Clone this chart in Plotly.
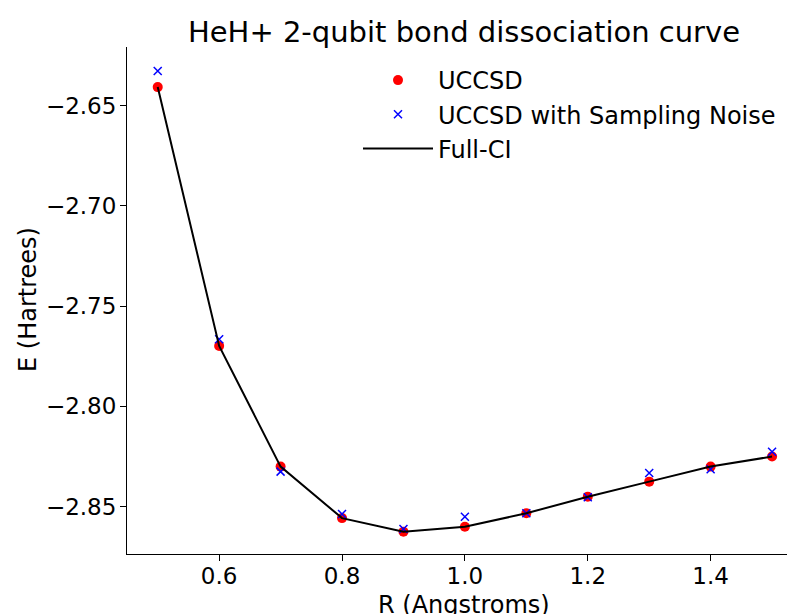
import plotly.graph_objects as go

R = [0.5, 0.6, 0.7, 0.8, 0.9, 1.0, 1.1, 1.2, 1.3, 1.4, 1.5]
E_uccsd = [-2.6408, -2.7699, -2.8301, -2.8558, -2.8626, -2.8601, -2.8534, -2.8451, -2.8376, -2.8301, -2.8251]
E_noise = [-2.6328, -2.7666, -2.8326, -2.8537, -2.8612, -2.8551, -2.8534, -2.8454, -2.8333, -2.8314, -2.8227]
E_fci = [-2.6408, -2.7699, -2.8301, -2.8558, -2.8626, -2.8601, -2.8534, -2.8451, -2.8376, -2.8301, -2.8251]

x_ticks = [0.6, 0.8, 1.0, 1.2, 1.4]
x_ticklabels = ["0.6", "0.8", "1.0", "1.2", "1.4"]
y_ticks = [-2.65, -2.70, -2.75, -2.80, -2.85]
y_ticklabels = ["\u22122.65", "\u22122.70", "\u22122.75", "\u22122.80", "\u22122.85"]

FONT = "DejaVu Sans"
L, T, B = 127, 47, 60
PW, PH = 787 - L, 614 - T - B

fig = go.Figure()
fig.add_trace(go.Scatter(x=R, y=E_uccsd, mode="markers", name="UCCSD",
                         marker=dict(symbol="circle", color="#ff0000", size=10)))
fig.add_trace(go.Scatter(x=R, y=E_noise, mode="markers", name="UCCSD with Sampling Noise",
                         marker=dict(symbol="x-thin", color="#0000ff", size=8,
                                     line=dict(color="#0000ff", width=1.5))))
fig.add_trace(go.Scatter(x=R, y=E_fci, mode="lines", name="Full-CI",
                         line=dict(color="black", width=2)))

fig.update_layout(
    width=787, height=614,
    margin=dict(l=L, r=0, t=T, b=B, autoexpand=False),
    paper_bgcolor="white", plot_bgcolor="white",
    font=dict(family=FONT, size=24, color="black"),
    title=dict(text="HeH+ 2-qubit bond dissociation curve", x=464 / 787, xanchor="center",
               y=1 - 32 / 614, yanchor="middle", font=dict(size=29, family=FONT, color="black")),
    showlegend=True,
    legend=dict(x=(358 - L) / PW, xanchor="left", y=1 - (58 - T) / PH, yanchor="top",
                bgcolor="rgba(0,0,0,0)", borderwidth=0, font=dict(size=24, family=FONT),
                tracegroupgap=0, itemwidth=70),
    annotations=[
        dict(text="E (Hartrees)", textangle=-90,
             x=(28 - L) / PW, xref="paper", xanchor="center",
             y=1 - (300 - T) / PH, yref="paper", yanchor="middle",
             showarrow=False, font=dict(size=24, family=FONT, color="black")),
        dict(text="R (Angstroms)",
             x=(464 - L) / PW, xref="paper", xanchor="center",
             y=1 - (589 - T) / PH, yref="paper", yanchor="top",
             showarrow=False, font=dict(size=24, family=FONT, color="black")),
    ],
)

fig.update_xaxes(range=[0.45, 1.5243], tickvals=x_ticks, ticktext=x_ticklabels, automargin=False,
                 showgrid=False, zeroline=False, showline=True, linecolor="black", linewidth=1,
                 ticks="outside", ticklen=6, tickwidth=1, tickcolor="black",
                 tickfont=dict(size=23, family=FONT), ticklabelstandoff=-5)
fig.update_yaxes(range=[-2.8737, -2.6208], tickvals=y_ticks, ticktext=y_ticklabels, automargin=False,
                 showgrid=False, zeroline=False, showline=True, linecolor="black", linewidth=1,
                 ticks="outside", ticklen=6, tickwidth=1, tickcolor="black",
                 tickfont=dict(size=23, family=FONT), ticklabelstandoff=-1)

fig.write_html("out.html", config={"displayModeBar": False},
               post_script="document.body.style.margin='0';document.body.style.overflow='hidden';")
